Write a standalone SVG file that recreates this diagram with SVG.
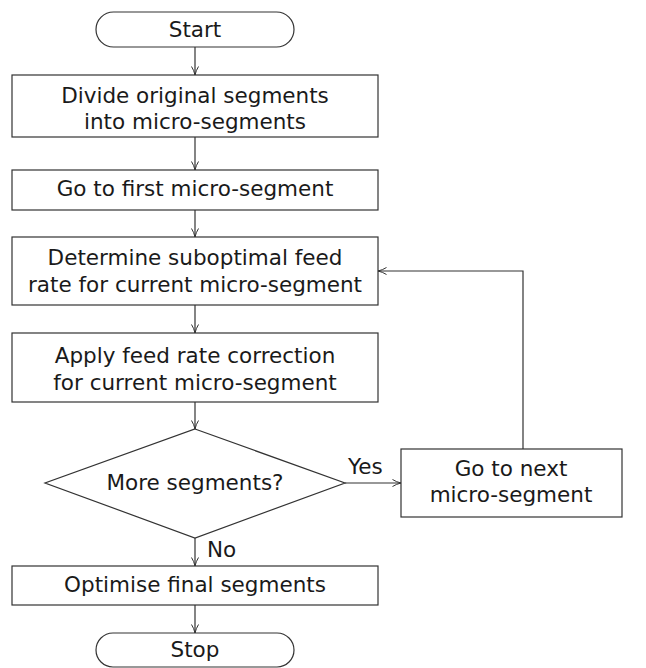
<svg xmlns="http://www.w3.org/2000/svg" width="646" height="668" viewBox="0 0 646 668">
<defs>
<marker id="arr" viewBox="0 0 10 10" refX="9.5" refY="5" markerWidth="10" markerHeight="10" markerUnits="userSpaceOnUse" orient="auto">
<path d="M1,1.5 Q5,4 9.5,5 Q5,6 1,8.5" fill="none" stroke="#333" stroke-width="1"/>
</marker>
<style>
.box{fill:#fff;stroke:#333;stroke-width:1.2}
.t{font-family:"DejaVu Sans",sans-serif;font-size:21.5px;fill:#1a1a1a;text-anchor:middle}
.l{font-family:"DejaVu Sans",sans-serif;font-size:21.5px;fill:#1a1a1a}
.c{fill:none;stroke:#333;stroke-width:1.2;marker-end:url(#arr)}
</style>
</defs>
<rect width="646" height="668" fill="#fff"/>
<g id="start"><rect class="box" x="96" y="12" width="198" height="35" rx="17.5"/><text class="t" x="195" y="37">Start</text></g>
<g id="divide"><rect class="box" x="12" y="75" width="366" height="62"/><text class="t" x="195" y="103">Divide original segments</text><text class="t" x="195" y="129">into micro-segments</text></g>
<g id="first"><rect class="box" x="12" y="170" width="366" height="40"/><text class="t" x="195" y="196">Go to first micro-segment</text></g>
<g id="determine"><rect class="box" x="12" y="237" width="366" height="68"/><text class="t" x="195" y="265">Determine suboptimal feed</text><text class="t" x="195" y="292">rate for current micro-segment</text></g>
<g id="apply"><rect class="box" x="12" y="333" width="366" height="69"/><text class="t" x="195" y="363">Apply feed rate correction</text><text class="t" x="195" y="390">for current micro-segment</text></g>
<g id="decision"><polygon class="box" points="195,429 345,483 195,538 45,483"/><text class="t" x="195" y="490">More segments?</text></g>
<g id="next"><rect class="box" x="401" y="449" width="221" height="68"/><text class="t" x="511" y="476">Go to next</text><text class="t" x="511" y="502">micro-segment</text></g>
<g id="optimise"><rect class="box" x="12" y="566" width="366" height="39"/><text class="t" x="195" y="592">Optimise final segments</text></g>
<g id="stop"><rect class="box" x="96" y="633" width="198" height="34" rx="17"/><text class="t" x="195" y="657">Stop</text></g>
<g id="connectors">
<line class="c" x1="195" y1="47" x2="195" y2="75"/>
<line class="c" x1="195" y1="137" x2="195" y2="170"/>
<line class="c" x1="195" y1="210" x2="195" y2="237"/>
<line class="c" x1="195" y1="305" x2="195" y2="333"/>
<line class="c" x1="195" y1="402" x2="195" y2="429"/>
<line class="c" x1="195" y1="538" x2="195" y2="566"/>
<line class="c" x1="195" y1="605" x2="195" y2="633"/>
<line class="c" x1="345" y1="483" x2="401" y2="483"/>
<polyline class="c" points="523,449 523,271 378,271"/>
<text class="l" x="348" y="474">Yes</text>
<text class="l" x="207" y="557">No</text>
</g>
</svg>
